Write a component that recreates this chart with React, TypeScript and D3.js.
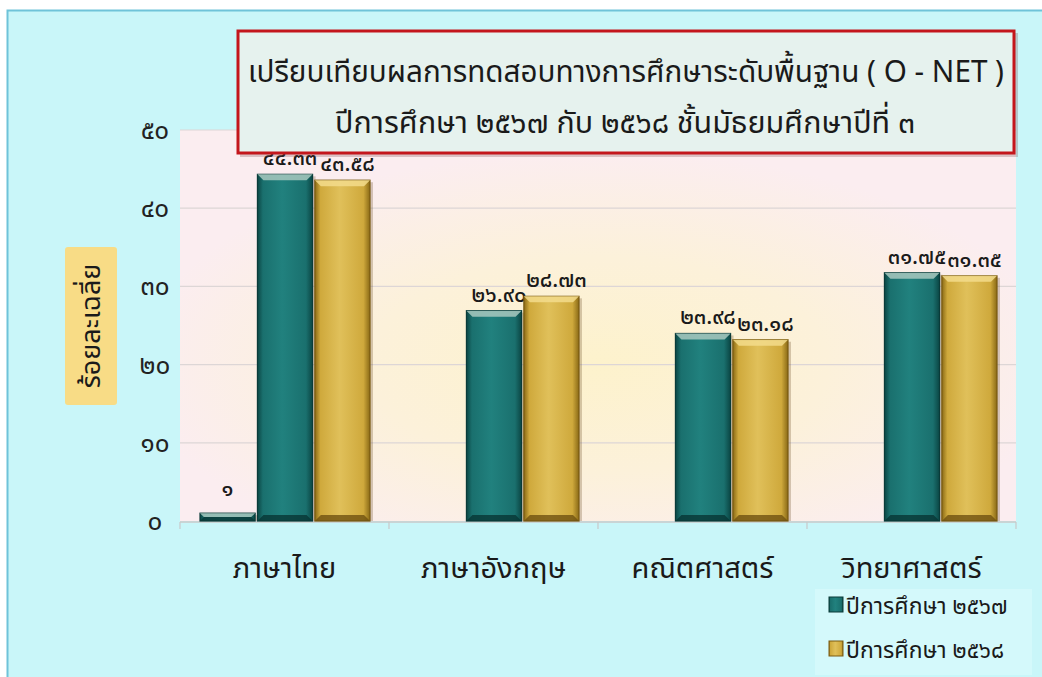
import React, { useEffect, useRef } from 'react';
import * as d3 from 'd3';

// chart data
const categories: string[] = ['ภาษาไทย', 'ภาษาอังกฤษ', 'คณิตศาสตร์', 'วิทยาศาสตร์'];
const extraValues: (number | null)[] = [1, null, null, null];
const values2567: number[] = [44.33, 26.9, 23.98, 31.75];
const values2568: number[] = [43.58, 28.73, 23.18, 31.35];
const seriesNames: string[] = ['ปีการศึกษา ๒๕๖๗', 'ปีการศึกษา ๒๕๖๘'];
const yTicks: number[] = [0, 10, 20, 30, 40, 50];
const titleLines: string[] = [
    'เปรียบเทียบผลการทดสอบทางการศึกษาระดับพื้นฐาน ( O - NET )',
    'ปีการศึกษา ๒๕๖๗ กับ ๒๕๖๘ ชั้นมัธยมศึกษาปีที่ ๓'
];
const yLabel = 'ร้อยละเฉลี่ย';

const thaiDigits = '๐๑๒๓๔๕๖๗๘๙';
const toThai = (s: string) => s.replace(/[0-9]/g, d => thaiDigits[+d]);

const FONT = '"Noto Sans Thai", "Noto Sans", Tahoma, sans-serif';

const App: React.FC = () => {
    const svgRef = useRef<SVGSVGElement>(null);

    useEffect(() => {
        if (!svgRef.current) return;
        const svg = d3.select(svgRef.current);
        svg.selectAll('*').remove();

        const width = 1042, height = 677;
        const plot = { left: 180, right: 1016, top: 130, bottom: 521 };

        svg.attr('width', width).attr('height', height);

        const defs = svg.append('defs');

        // plot background gradient
        const bg = defs.append('radialGradient').attr('id', 'plotBg')
            .attr('cx', '0.5').attr('cy', '0.6').attr('r', '0.55');
        bg.append('stop').attr('offset', '0%').attr('stop-color', '#fdf2cc');
        bg.append('stop').attr('offset', '50%').attr('stop-color', '#fcf1da');
        bg.append('stop').attr('offset', '100%').attr('stop-color', '#fbedf0');

        const makeBarGrad = (id: string, edge: string, mid: string, light: string) => {
            const g = defs.append('linearGradient').attr('id', id)
                .attr('x1', '0').attr('x2', '1').attr('y1', '0').attr('y2', '0');
            g.append('stop').attr('offset', '0%').attr('stop-color', edge);
            g.append('stop').attr('offset', '10%').attr('stop-color', mid);
            g.append('stop').attr('offset', '45%').attr('stop-color', light);
            g.append('stop').attr('offset', '88%').attr('stop-color', mid);
            g.append('stop').attr('offset', '100%').attr('stop-color', edge);
        };
        makeBarGrad('tealGrad', '#0b4644', '#1a706e', '#21817e');
        makeBarGrad('goldGrad', '#8a6a16', '#cfa93c', '#e0c05a');

        // page frame
        svg.append('rect').attr('width', width).attr('height', height).attr('fill', '#ffffff');
        svg.append('rect').attr('x', 7).attr('y', 10).attr('width', width - 7).attr('height', height - 10)
            .attr('fill', '#c9f6f9');
        svg.append('path').attr('d', `M7.5,${height} V10.5 H${width}`)
            .attr('fill', 'none').attr('stroke', '#6fc3d9').attr('stroke-width', 2);

        // plot area
        svg.append('rect')
            .attr('x', plot.left).attr('y', plot.top)
            .attr('width', plot.right - plot.left).attr('height', plot.bottom - plot.top)
            .attr('fill', 'url(#plotBg)');

        const y = d3.scaleLinear().domain([0, 50]).range([plot.bottom, plot.top]);
        const x0 = d3.scaleBand<string>().domain(categories).range([plot.left, plot.right]).padding(0);
        const slots = ['extra', 's2567', 's2568'];
        const x1 = d3.scaleBand<string>().domain(slots).range([20, x0.bandwidth() - 19]).paddingInner(0.04);

        // grid
        svg.append('g')
            .selectAll('line')
            .data(yTicks.filter(t => t > 0))
            .enter().append('line')
            .attr('x1', plot.left).attr('x2', plot.right)
            .attr('y1', d => y(d)).attr('y2', d => y(d))
            .attr('stroke', '#ddd6d6').attr('stroke-width', 1.2);

        // y axis labels
        svg.append('g')
            .selectAll('text')
            .data(yTicks)
            .enter().append('text')
            .attr('x', 155).attr('y', d => y(d) + 9)
            .attr('text-anchor', 'middle')
            .attr('font-family', FONT).attr('font-size', 26)
            .attr('fill', '#222')
            .text(d => toThai(String(d)));

        // x axis line + ticks
        svg.append('line')
            .attr('x1', plot.left).attr('x2', plot.right)
            .attr('y1', plot.bottom + 1).attr('y2', plot.bottom + 1)
            .attr('stroke', '#c9c9c9').attr('stroke-width', 1.5);
        const bounds = categories.map(c => x0(c) as number).concat([plot.right]);
        svg.append('g').selectAll('line').data(bounds).enter().append('line')
            .attr('x1', d => d).attr('x2', d => d)
            .attr('y1', plot.bottom + 1).attr('y2', plot.bottom + 8)
            .attr('stroke', '#c9c9c9').attr('stroke-width', 1.2);

        // category labels
        svg.append('g').selectAll('text').data(categories).enter().append('text')
            .attr('x', d => (x0(d) as number) + x0.bandwidth() / 2)
            .attr('y', 578)
            .attr('text-anchor', 'middle')
            .attr('font-family', FONT).attr('font-size', 29)
            .attr('fill', '#1a1a1a')
            .text(d => d);

        type Bar = { cat: string; slot: string; value: number; label: string; kind: 'teal' | 'gold' };
        const bars: Bar[] = [];
        categories.forEach((c, i) => {
            const e = extraValues[i];
            if (e !== null) bars.push({ cat: c, slot: 'extra', value: e, label: toThai(String(e)), kind: 'teal' });
            bars.push({ cat: c, slot: 's2567', value: values2567[i], label: toThai(values2567[i].toFixed(2)), kind: 'teal' });
            bars.push({ cat: c, slot: 's2568', value: values2568[i], label: toThai(values2568[i].toFixed(2)), kind: 'gold' });
        });

        const barG = svg.append('g');
        bars.forEach(b => {
            const bx = (x0(b.cat) as number) + (x1(b.slot) as number);
            const bw = x1.bandwidth();
            const top = y(b.value);
            const h = plot.bottom - top;
            const g = barG.append('g');
            // shadow
            g.append('rect')
                .attr('x', bx + 3).attr('y', top + 2)
                .attr('width', bw).attr('height', h - 2)
                .attr('fill', 'rgba(90,60,20,0.25)');
            g.append('rect')
                .attr('x', bx).attr('y', top)
                .attr('width', bw).attr('height', h)
                .attr('fill', b.kind === 'teal' ? 'url(#tealGrad)' : 'url(#goldGrad)')
                .attr('stroke', b.kind === 'teal' ? '#0a3b39' : '#7a5b12')
                .attr('stroke-width', 1.2);
            // top bevel
            const bev = Math.min(6, h / 2);
            g.append('path')
                .attr('d', `M${bx},${top} L${bx + bw},${top} L${bx + bw - bev},${top + bev} L${bx + bev},${top + bev} Z`)
                .attr('fill', b.kind === 'teal' ? '#a9c9c0' : '#f3dc8c')
                .attr('opacity', 0.85);
            // bottom bevel
            g.append('path')
                .attr('d', `M${bx},${plot.bottom} L${bx + bw},${plot.bottom} L${bx + bw - bev},${plot.bottom - bev} L${bx + bev},${plot.bottom - bev} Z`)
                .attr('fill', b.kind === 'teal' ? '#083634' : '#6f5110')
                .attr('opacity', 0.8);

            const isExtra = b.slot === 'extra';
            g.append('text')
                .attr('x', bx + bw / 2 + (isExtra ? 0 : 5))
                .attr('y', isExtra ? top - 17 : top - 9)
                .attr('text-anchor', 'middle')
                .attr('font-family', FONT).attr('font-size', 22)
                .attr('font-weight', 500)
                .attr('fill', '#1a1a1a')
                .text(b.label);
        });

        // y axis title
        svg.append('rect').attr('x', 65).attr('y', 247).attr('width', 52).attr('height', 158)
            .attr('fill', '#f8dc86').attr('rx', 3);
        svg.append('text')
            .attr('transform', 'translate(100,326) rotate(-90)')
            .attr('text-anchor', 'middle')
            .attr('font-family', FONT).attr('font-size', 27)
            .attr('fill', '#1a1a1a')
            .text(yLabel);

        // title box
        svg.append('rect').attr('x', 240).attr('y', 33).attr('width', 778).attr('height', 124)
            .attr('fill', 'rgba(120,60,60,0.25)');
        svg.append('rect').attr('x', 238).attr('y', 31).attr('width', 776).attr('height', 122)
            .attr('fill', '#e6f2ee').attr('stroke', '#c4161c').attr('stroke-width', 3);
        svg.append('text').attr('x', 626).attr('y', 82)
            .attr('text-anchor', 'middle')
            .attr('font-family', FONT).attr('font-size', 31)
            .attr('textLength', 756).attr('lengthAdjust', 'spacingAndGlyphs')
            .attr('fill', '#1a1a1a')
            .text(titleLines[0]);
        svg.append('text').attr('x', 625).attr('y', 133)
            .attr('text-anchor', 'middle')
            .attr('font-family', FONT).attr('font-size', 31)
            .attr('textLength', 580).attr('lengthAdjust', 'spacingAndGlyphs')
            .attr('fill', '#1a1a1a')
            .text(titleLines[1]);

        // legend
        const lg = svg.append('g');
        lg.append('rect').attr('x', 815).attr('y', 589).attr('width', 217).attr('height', 86)
            .attr('fill', '#d4f9fb');
        const legendColors = ['url(#tealGrad)', 'url(#goldGrad)'];
        seriesNames.forEach((name, i) => {
            const ly = 605 + i * 44;
            lg.append('rect').attr('x', 829).attr('y', ly - 8).attr('width', 14).attr('height', 15)
                .attr('fill', legendColors[i]).attr('stroke', i === 0 ? '#0a3b39' : '#7a5b12');
            lg.append('text').attr('x', 846).attr('y', ly + 9)
                .attr('font-family', FONT).attr('font-size', 23)
                .attr('fill', '#1a1a1a')
                .text(name);
        });
    }, []);

    return (
        <svg ref={svgRef} style={{ position: 'absolute', left: 0, top: 0, display: 'block' }}></svg>
    );
};

export default App;
